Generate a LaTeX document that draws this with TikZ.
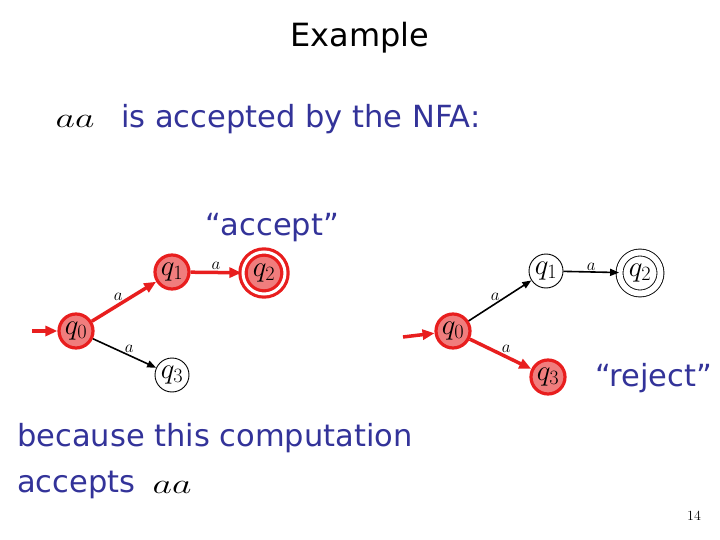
\RequirePackage{fix-cm}
\documentclass[tikz,border=0pt]{standalone}
\usepackage{fontspec}
\usepackage{xcolor}
\usetikzlibrary{arrows.meta, positioning}
\newfontfamily\slidefont{DejaVu Sans}
\definecolor{slideblue}{RGB}{51,51,153}
\definecolor{nfared}{RGB}{232,30,30}
\definecolor{nfafill}{RGB}{240,125,125}

\tikzset{
  state/.style={circle,draw,line width=0.9pt,minimum size=34pt,inner sep=0pt,
    font=\fontsize{29}{29}\selectfont},
  redstate/.style={state,draw=nfared,fill=nfafill,line width=3.2pt},
  final/.style={minimum size=41pt,double,double distance=6pt},
  redfinal/.style={minimum size=42pt,double=white,double distance=3pt},
  move/.style={-{Triangle[length=9pt,width=7pt]},line width=1.6pt},
  redmove/.style={-{Triangle[length=12pt,width=10pt]},line width=3.5pt,draw=nfared},
  lbl/.style={font=\fontsize{17}{17}\selectfont,inner sep=1pt},
  slide/.style={text=slideblue,font=\slidefont\fontsize{30.5}{30.5}\selectfont,inner sep=0pt}
}

\begin{document}
\begin{tikzpicture}[x=1pt,y=-1pt]
\useasboundingbox (0,0) rectangle (720,540);

\node[font=\slidefont\fontsize{32}{32}\selectfont] (title) at (360,38) {Example};
\node (word) at (75,121) {\fontsize{28}{28}\selectfont\scalebox{1.35}[1]{$aa$}};
\node[slide,anchor=west] (claim) at (121,119) {is accepted by the NFA:};
\node[slide] (acc) at (272,228) {“accept”};
\node[slide] (rej) at (654,378) {“reject”};
\node[slide,anchor=west] (why) at (17,438) {because this computation};
\node[slide,anchor=west] (why2) at (17,485) {accepts};
\node (word2) at (172,487) {\fontsize{28}{28}\selectfont\scalebox{1.35}[1]{$aa$}};
\node[font=\fontsize{14}{14}\selectfont] (page) at (694,516) {14};

% accepting computation
\node[redstate] (a0) at (76,331) {$q_0$};
\node[redstate] (a1) at (172,272) {$q_1$};
\node[redstate,redfinal] (a2) at (264,273) {$q_2$};
\node[state] (a3) at (172,375) {$q_3$};
\coordinate (as) at (32,331);
\draw[redmove] (as) -- (a0);
\draw[redmove] (a0) -- node[lbl,above left=-2pt] {$a$} (a1);
\draw[redmove] (a1) -- node[lbl,above=0pt] {$a$} (a2);
\draw[move] (a0) -- node[lbl,above right=-2pt] {$a$} (a3);

% rejecting computation
\node[redstate] (b0) at (453,331) {$q_0$};
\node[state] (b1) at (546,271) {$q_1$};
\node[state,final] (b2) at (640,273) {$q_2$};
\node[redstate] (b3) at (548,377) {$q_3$};
\coordinate (bs) at (403,337);
\draw[redmove] (bs) -- (b0);
\draw[move] (b0) -- node[lbl,above left=-2pt] {$a$} (b1);
\draw[move] (b1) -- node[lbl,above=0pt] {$a$} (b2);
\draw[redmove] (b0) -- node[lbl,above right=-2pt] {$a$} (b3);
\end{tikzpicture}
\end{document}
